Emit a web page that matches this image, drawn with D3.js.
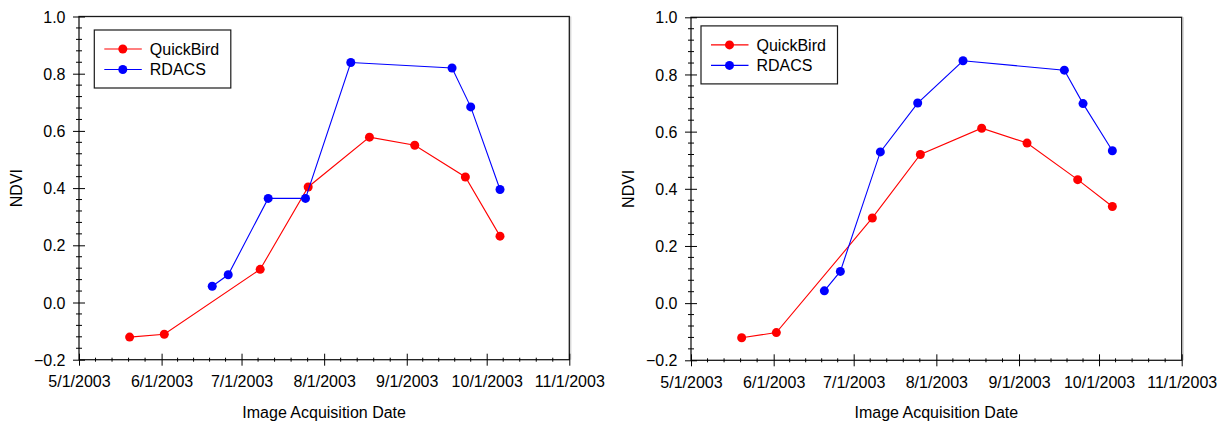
<!DOCTYPE html>
<html>
<head>
<meta charset="utf-8">
<script src="https://cdn.jsdelivr.net/npm/d3@7"></script>
<style>
  html, body { margin: 0; padding: 0; background: #fff; }
  svg { display: block; }
  text { font-family: "Liberation Sans", Arial, sans-serif; fill: #000; }
</style>
</head>
<body>
<svg id="chart" width="1230" height="423"></svg>
<script>
// Acquisition dates (2003)
const quickbirdDates = ["2003-05-20", "2003-06-02", "2003-07-08", "2003-07-26", "2003-08-18", "2003-09-04", "2003-09-23", "2003-10-06"];
const rdacsDates = ["2003-06-20", "2003-06-26", "2003-07-11", "2003-07-25", "2003-08-11", "2003-09-18", "2003-09-25", "2003-10-06"];

// NDVI, first site
const quickbirdA = [-0.121, -0.111, 0.116, 0.404, 0.578, 0.550, 0.439, 0.232];
const rdacsA = [0.057, 0.097, 0.364, 0.364, 0.839, 0.820, 0.684, 0.395];

// NDVI, second site
const quickbirdB = [-0.121, -0.103, 0.298, 0.520, 0.612, 0.560, 0.432, 0.338];
const rdacsB = [0.043, 0.111, 0.529, 0.700, 0.848, 0.815, 0.698, 0.533];

// Axis ticks
const xTickDates = ["2003-05-01", "2003-06-01", "2003-07-01", "2003-08-01", "2003-09-01", "2003-10-01", "2003-11-01"];
const yTicks = [-0.2, 0.0, 0.2, 0.4, 0.6, 0.8, 1.0];

const seriesNames = ["QuickBird", "RDACS"];
const seriesColors = ["#ff0000", "#0000ff"];

const parse = d3.utcParse("%Y-%m-%d");
const fmtDate = d => `${d.getUTCMonth() + 1}/${d.getUTCDate()}/${d.getUTCFullYear()}`;

const svg = d3.select("#chart");

const panels = [
  { left: 79, top: 16.5, width: 490.3, height: 343.2, qb: quickbirdA, rd: rdacsA, legend: { x: 15.3, y: 13.5 } },
  { left: 691, top: 17.3, width: 490.7, height: 343.0, qb: quickbirdB, rd: rdacsB, legend: { x: 10, y: 8.6 } }
];

panels.forEach(p => {
  const g = svg.append("g").attr("transform", `translate(${p.left},${p.top})`);

  const x = d3.scaleUtc()
    .domain([parse(xTickDates[0]), parse(xTickDates[xTickDates.length - 1])])
    .range([0, p.width]);
  const y = d3.scaleLinear().domain([-0.2, 1.0]).range([p.height, 0]);

  // Frame
  g.append("rect")
    .attr("x", 0).attr("y", 0)
    .attr("width", p.width).attr("height", p.height)
    .attr("fill", "none").attr("stroke", "#1a1a1a").attr("stroke-width", 1.3);
  // faint shadow on the right edge
  g.append("line")
    .attr("x1", p.width + 1.5).attr("x2", p.width + 1.5)
    .attr("y1", 0).attr("y2", p.height)
    .attr("stroke", "#c8c8c8").attr("stroke-width", 1);

  // Y axis: major ticks crossing the axis, minor ticks every 0.04
  const yAxis = d3.axisLeft(y).tickValues(yTicks).tickFormat(d3.format(".1f")).tickSize(6).tickPadding(5);
  const ya = g.append("g").call(yAxis);
  ya.select(".domain").remove();
  ya.selectAll(".tick line").attr("x2", 6).attr("x1", -6).attr("stroke", "#000");
  ya.selectAll(".tick text").attr("font-size", 16).attr("x", -13.5).attr("dy", "0.35em");
  for (let i = 0; i < yTicks.length - 1; i++) {
    for (let k = 1; k < 5; k++) {
      const v = yTicks[i] + (yTicks[i + 1] - yTicks[i]) * k / 5;
      g.append("line")
        .attr("x1", -3).attr("x2", 3)
        .attr("y1", y(v)).attr("y2", y(v))
        .attr("stroke", "#000").attr("stroke-width", 1);
    }
  }

  // X axis: monthly major ticks, four minor ticks between
  const xDates = xTickDates.map(parse);
  const xAxis = d3.axisBottom(x).tickValues(xDates).tickFormat(fmtDate).tickSize(6).tickPadding(10);
  const xa = g.append("g").attr("transform", `translate(0,${p.height})`).call(xAxis);
  xa.select(".domain").remove();
  xa.selectAll(".tick line").attr("y1", -6).attr("y2", 6).attr("stroke", "#000");
  xa.selectAll(".tick text").attr("font-size", 16).attr("y", 16).attr("dy", "0.71em");
  for (let i = 0; i < xDates.length - 1; i++) {
    const a = x(xDates[i]), b = x(xDates[i + 1]);
    for (let k = 1; k < 5; k++) {
      const px = a + (b - a) * k / 5;
      g.append("line")
        .attr("x1", px).attr("x2", px)
        .attr("y1", p.height - 2).attr("y2", p.height + 2)
        .attr("stroke", "#000").attr("stroke-width", 1);
    }
  }

  // Axis titles
  g.append("text")
    .attr("x", p.width / 2).attr("y", p.height + 58)
    .attr("text-anchor", "middle").attr("font-size", 16)
    .text("Image Acquisition Date");
  g.append("text")
    .attr("transform", `translate(-57.5,${p.height / 2}) rotate(-90)`)
    .attr("text-anchor", "middle").attr("font-size", 16)
    .text("NDVI");

  // Series
  const series = [
    { dates: quickbirdDates, vals: p.qb, color: seriesColors[0] },
    { dates: rdacsDates, vals: p.rd, color: seriesColors[1] }
  ];
  const line = d3.line().x(d => x(d.date)).y(d => y(d.v));
  series.forEach(s => {
    const pts = s.dates.map((d, i) => ({ date: parse(d), v: s.vals[i] }));
    g.append("path")
      .attr("d", line(pts))
      .attr("fill", "none").attr("stroke", s.color).attr("stroke-width", 1.1);
    g.selectAll(null).data(pts).enter().append("circle")
      .attr("cx", d => x(d.date)).attr("cy", d => y(d.v))
      .attr("r", 4.5).attr("fill", s.color);
  });

  // Legend
  const lg = g.append("g").attr("transform", `translate(${p.legend.x},${p.legend.y})`);
  lg.append("rect")
    .attr("x", 0).attr("y", 0).attr("width", 136.5).attr("height", 58)
    .attr("fill", "#fff").attr("stroke", "#1a1a1a").attr("stroke-width", 1.2);
  seriesNames.forEach((name, i) => {
    const cy = 19 + i * 20.5;
    lg.append("line")
      .attr("x1", 10).attr("x2", 47.5).attr("y1", cy).attr("y2", cy)
      .attr("stroke", seriesColors[i]).attr("stroke-width", 1.1);
    lg.append("circle")
      .attr("cx", 28.5).attr("cy", cy).attr("r", 4.5).attr("fill", seriesColors[i]);
    lg.append("text")
      .attr("x", 55.5).attr("y", cy).attr("dy", "0.36em")
      .attr("font-size", 16).text(name);
  });
});
</script>
</body>
</html>
